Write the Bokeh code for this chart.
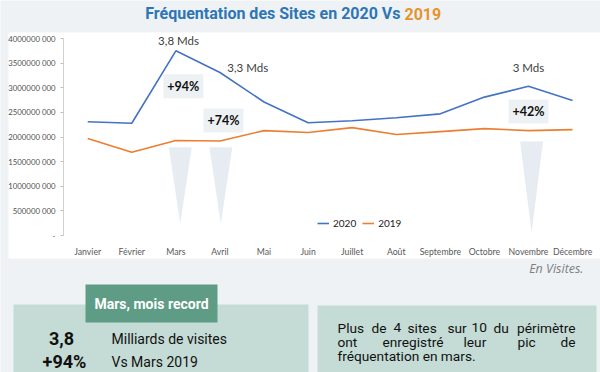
from bokeh.plotting import figure
from bokeh.models import (Range1d, FixedTicker, CustomJSTickFormatter, Legend,
                          LegendItem)
from bokeh.core.properties import value
from bokeh.embed import file_html
from bokeh.resources import INLINE

# ---------------- data ----------------
months = ["Janvier", "Février", "Mars", "Avril", "Mai", "Juin", "Juillet",
          "Août", "Septembre", "Octobre", "Novembre", "Décembre"]
visits_2020 = [2.31e9, 2.28e9, 3.75e9, 3.31e9, 2.71e9, 2.29e9, 2.33e9,
               2.39e9, 2.47e9, 2.81e9, 3.03e9, 2.74e9]
visits_2019 = [1.97e9, 1.69e9, 1.93e9, 1.92e9, 2.13e9, 2.09e9, 2.19e9,
               2.05e9, 2.11e9, 2.17e9, 2.13e9, 2.15e9]
y_ticks = [0, 5e8, 1e9, 1.5e9, 2e9, 2.5e9, 3e9, 3.5e9, 4e9]

peak_labels = ["3,8 Mds", "3,3 Mds", "3 Mds"]
peak_x = [2.06, 3.63, 10.0]
peak_y = [3.96e9, 3.41e9, 3.41e9]

pct_labels = ["+94%", "+74%", "+42%"]
pct_x = [2.17, 3.08, 10.0]
pct_y = [3.03e9, 2.335e9, 2.52e9]

tri_x = [2.1, 3.02, 10.07]
tri_top = [1.79e9, 1.79e9, 1.91e9]
tri_tip = [0.24e9, 0.24e9, 0.06e9]

# ---------------- layout constants ----------------
W, H = 600, 372
PX_MONTH = 44.08            # pixels per month
X0 = 87.2                   # canvas x of first month
PX_VIS = 197 / 4e9          # pixels per visit
Y0 = 235                    # canvas y of zero line

BG = "#eef2f5"
BLUE = "#4472c4"
ORANGE = "#ed7d31"
TXT = "#404040"
INK = "#111111"

p = figure(width=W, height=H,
           x_range=Range1d(-X0 / PX_MONTH, (W - X0) / PX_MONTH),
           y_range=Range1d(-(H - Y0) / PX_VIS, Y0 / PX_VIS),
           output_backend="svg", toolbar_location=None,
           min_border=0, min_border_left=0, min_border_right=0,
           min_border_top=0, min_border_bottom=0,
           outline_line_color=None, background_fill_color=BG,
           border_fill_color=BG)
p.extra_x_ranges = {"px": Range1d(0, W)}
p.extra_y_ranges = {"py": Range1d(H, 0)}
p.xgrid.visible = False
p.ygrid.visible = False

PXR = dict(x_range_name="px", y_range_name="py")

# white chart card
p.quad(left=[8], right=[600], top=[32], bottom=[258], fill_color="white",
       line_color=None, **PXR)

# title
p.text(x=[400], y=[13], text=["Fréquentation des Sites en 2020 Vs"],
       text_font=value("Roboto"), text_font_style="bold", text_font_size="16px",
       text_color="#2e75b6", text_align="right", text_baseline="middle", **PXR)
p.text(x=[404], y=[13], text=["2019"],
       text_font=value("Roboto"), text_font_style="bold", text_font_size="16px",
       text_color="#e8922c", text_align="left", text_baseline="middle", **PXR)

xs = list(range(len(months)))

# decorative down-pointing wedges
tri_xs = [[x - 0.26, x + 0.26, x] for x in tri_x]
tri_ys = [[t, t, b] for t, b in zip(tri_top, tri_tip)]
p.patches(tri_xs, tri_ys, fill_color="#e6ecf1", line_color=None)

r20 = p.line(xs, visits_2020, line_color=BLUE, line_width=1.6)
r19 = p.line(xs, visits_2019, line_color=ORANGE, line_width=1.6)

p.rect(x=pct_x, y=pct_y, width=40, height=24, width_units="screen",
       height_units="screen", fill_color="#edf1f4", line_color=None)
p.text(x=pct_x, y=pct_y, text=pct_labels, text_font=value("Lato"),
       text_font_style="bold", text_font_size="12.5px", text_color=INK,
       text_align="center", text_baseline="middle")
p.text(x=peak_x, y=peak_y, text=peak_labels, text_font=value("Lato"),
       text_font_size="11.5px", text_color=TXT, text_align="center",
       text_baseline="middle")

# axes (fixed inside the canvas)
p.xaxis.fixed_location = 0
p.xaxis.ticker = FixedTicker(ticks=xs)
p.xaxis.major_label_overrides = {i: m for i, m in enumerate(months)}
p.xaxis.axis_line_color = None
p.xaxis.major_tick_line_color = None
p.xaxis.minor_tick_line_color = None
p.xaxis.major_label_standoff = 4
p.xaxis.major_label_text_font = "Lato"
p.xaxis.major_label_text_font_size = "8.7px"
p.xaxis.major_label_text_color = "#595959"

p.yaxis.fixed_location = (63 - X0) / PX_MONTH
p.yaxis.bounds = (0, 4e9)
p.yaxis.ticker = FixedTicker(ticks=y_ticks)
p.yaxis.formatter = CustomJSTickFormatter(code="""
    if (tick == 0) { return "-"; }
    const s = Math.round(tick).toString();
    return s.slice(0, -3) + " " + s.slice(-3);
""")
p.yaxis.axis_line_color = "#d0d0d0"
p.yaxis.major_tick_line_color = "#c0c0c0"
p.yaxis.major_tick_out = 3
p.yaxis.major_tick_in = 0
p.yaxis.minor_tick_line_color = None
p.yaxis.major_label_standoff = 5
p.yaxis.major_label_text_font = "Lato"
p.yaxis.major_label_text_font_size = "7.8px"
p.yaxis.major_label_text_color = "#505050"

legend = Legend(items=[LegendItem(label="2020", renderers=[r20]),
                       LegendItem(label="2019", renderers=[r19])],
                orientation="horizontal", location=(317, H - 229),
                glyph_width=12, glyph_height=12, label_standoff=4, spacing=6,
                padding=0, margin=0, background_fill_alpha=0,
                border_line_alpha=0, label_text_font="Lato",
                label_text_font_size="10px", label_text_color="#222222",
                label_height=12)
p.add_layout(legend)

# ---------------- bottom panels ----------------
p.text(x=[583], y=[268], text=["En Visites."], text_font=value("Open Sans"),
       text_font_style="italic", text_font_size="12.5px", text_color="#7f7f7f",
       text_align="right", text_baseline="middle", **PXR)

PANEL = "#c4dcd5"
HEAD = "#5e9c85"
p.quad(left=[13, 317], right=[308, 596], top=[304, 305], bottom=[380, 380],
       fill_color=PANEL, line_color=None, **PXR)
p.quad(left=[85], right=[217], top=[284], bottom=[322], fill_color=HEAD,
       line_color=None, **PXR)
p.text(x=[151], y=[303], text=["Mars, mois record"], text_font=value("Roboto"),
       text_font_style="bold", text_font_size="14px", text_color="white",
       text_align="center", text_baseline="middle", **PXR)

p.text(x=[61, 64], y=[338, 361], text=["3,8", "+94%"], text_font=value("Roboto"),
       text_font_style="bold", text_font_size="18px", text_color=INK,
       text_align="center", text_baseline="middle", **PXR)
p.text(x=[111, 111], y=[338, 361], text=["Milliards de visites", "Vs Mars 2019"],
       text_font=value("Roboto"), text_font_size="14px", text_color=INK,
       text_align="left", text_baseline="middle", **PXR)

line1 = ["Plus", "de", "4", "sites", "sur", "10", "du", "périmètre"]
line1_x = [337, 371, 393, 407, 447, 471, 493, 575]
line2 = ["ont", "enregistré", "leur", "pic", "de"]
line2_x = [337, 382, 463, 517, 575]
for words, wx, wy in ((line1, line1_x, 327), (line2, line2_x, 341)):
    aligns = ["left"] * (len(words) - 1) + ["right"]
    p.text(x=wx, y=[wy] * len(words), text=words, text_font=value("Roboto"),
           text_font_size="13.7px", text_color=INK, text_align=aligns,
           text_baseline="middle", **PXR)
p.text(x=[337], y=[355], text=["fréquentation en mars."],
       text_font=value("Roboto"), text_font_size="13.7px", text_color=INK,
       text_align="left", text_baseline="middle", **PXR)

open("out.html", "w").write(file_html(p, INLINE))
